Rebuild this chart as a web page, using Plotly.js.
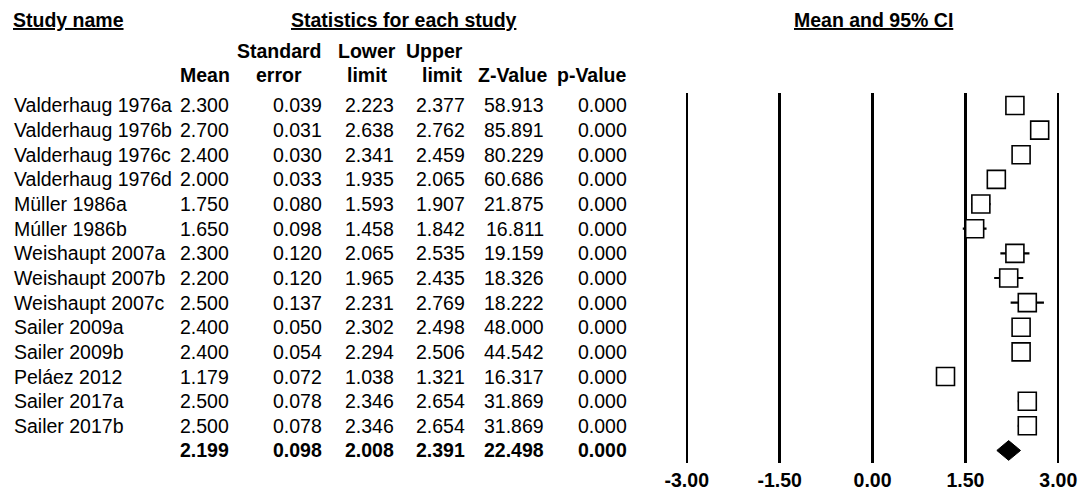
<!DOCTYPE html>
<html>
<head>
<meta charset="utf-8">
<script src="https://cdn.plot.ly/plotly-3.0.1.min.js"></script>
<style>html,body{margin:0;padding:0;background:#fff;}#chart{width:1082px;height:491px;}</style>
</head>
<body>
<div id="chart"></div>
<script>
// ---- data ----
const studies = ["Valderhaug 1976a","Valderhaug 1976b","Valderhaug 1976c","Valderhaug 1976d",
  "Müller 1986a","Múller 1986b","Weishaupt 2007a","Weishaupt 2007b","Weishaupt 2007c",
  "Sailer 2009a","Sailer 2009b","Peláez 2012","Sailer 2017a","Sailer 2017b"];
const means  = [2.300,2.700,2.400,2.000,1.750,1.650,2.300,2.200,2.500,2.400,2.400,1.179,2.500,2.500];
const stdErr = [0.039,0.031,0.030,0.033,0.080,0.098,0.120,0.120,0.137,0.050,0.054,0.072,0.078,0.078];
const lower  = [2.223,2.638,2.341,1.935,1.593,1.458,2.065,1.965,2.231,2.302,2.294,1.038,2.346,2.346];
const upper  = [2.377,2.762,2.459,2.065,1.907,1.842,2.535,2.435,2.769,2.498,2.506,1.321,2.654,2.654];
const zValues= [58.913,85.891,80.229,60.686,21.875,16.811,19.159,18.326,18.222,48.000,44.542,16.317,31.869,31.869];
const pValues= [0.000,0.000,0.000,0.000,0.000,0.000,0.000,0.000,0.000,0.000,0.000,0.000,0.000,0.000];
const summaryMean = 2.199, summarySE = 0.098, summaryLower = 2.008, summaryUpper = 2.391, summaryZ = 22.498, summaryP = 0.000;
const tickVals = [-3, -1.5, 0, 1.5, 3];
const tickLabels = ["-3.00","-1.50","0.00","1.50","3.00"];
const headerTop = ["","Standard","Lower","Upper","",""];
const headerBottom = ["Mean","error","limit","limit","Z-Value","p-Value"];

(function () {
  const W = 1082, H = 491;
  const FONT = "Liberation Sans, Arial, sans-serif";
  const FS = 19.5;
  const px = v => v / W;
  const py = v => 1 - v / H;
  const rows = studies.map((_, i) => i);
  const sumRow = studies.length;

  const colRight = [229.5, 323, 395, 466, 545, 628];
  const colHeadX = [205, 279, 367, 464, 513, 592];
  const colHeadAnchor = ['center', 'center', 'center', 'right', 'center', 'center'];

  const annotations = [];
  function ann(text, x, y, xanchor, yref, bold, font) {
    annotations.push({
      text: text, x: x, y: y, xref: 'paper', yref: yref,
      xanchor: xanchor, yanchor: 'middle', showarrow: false, borderpad: 0,
      font: font || {family: FONT, size: FS, color: '#000', weight: bold ? 'bold' : 'normal'}
    });
  }
  const uFont = {family: FONT, size: FS, color: '#000', weight: 'bold', lineposition: 'under'};
  ann("Study name", px(12), py(20), 'left', 'paper', true, uFont);
  ann("Statistics for each study", px(404), py(20), 'center', 'paper', true, uFont);
  ann("Mean and 95% CI", px(873), py(20), 'center', 'paper', true, uFont);
  headerTop.forEach((t, j) => { if (t) ann(t, px(colHeadX[j]), py(51.5), colHeadAnchor[j], 'paper', true); });
  headerBottom.forEach((t, j) => ann(t, px(colHeadX[j]), py(74.5), colHeadAnchor[j], 'paper', true));
  studies.forEach((s, i) => {
    ann(s, px(13), i, 'left', 'y', false);
    const vals = [means[i], stdErr[i], lower[i], upper[i], zValues[i], pValues[i]];
    vals.forEach((v, j) => ann(v.toFixed(3), px(colRight[j]), i, 'right', 'y', false));
  });
  [summaryMean, summarySE, summaryLower, summaryUpper, summaryZ, summaryP]
    .forEach((v, j) => ann(v.toFixed(3), px(colRight[j]), sumRow, 'right', 'y', true));

  const studyTrace = {
    type: 'scatter', mode: 'markers', x: means, y: rows,
    marker: {symbol: 'square', size: 18, color: '#fff', line: {color: '#000', width: 1.6}},
    error_x: {type: 'data', symmetric: false,
      array: upper.map((u, i) => u - means[i]),
      arrayminus: lower.map((l, i) => means[i] - l),
      width: 0, thickness: 2.2, color: '#000'},
    showlegend: false, cliponaxis: false
  };
  const dh = 0.4;
  const diamond = {
    type: 'scatter', mode: 'lines',
    x: [summaryLower, summaryMean, summaryUpper, summaryMean, summaryLower],
    y: [sumRow, sumRow - dh, sumRow, sumRow + dh, sumRow],
    fill: 'toself', fillcolor: '#000', line: {color: '#000', width: 1},
    showlegend: false
  };

  const pxPerUnit = (1058.25 - 686.75) / 6;
  const xr = [-3.03, 3.03];
  const xdom = [px(686.75 + (xr[0] + 3) * pxPerUnit), px(686.75 + (xr[1] + 3) * pxPerUnit)];
  const r0 = 105.5, dr = 24.64, pTop = 92.7, pBot = 462.7;
  const yrange = [(pBot - r0) / dr, (pTop - r0) / dr];

  const layout = {
    width: W, height: H,
    margin: {l: 0, r: 0, t: 0, b: 0, pad: 0},
    paper_bgcolor: '#fff', plot_bgcolor: '#fff',
    showlegend: false,
    xaxis: {domain: xdom, range: xr, tickvals: tickVals, ticktext: tickLabels,
      showgrid: true, gridcolor: '#000', gridwidth: 2.4, zeroline: false, showline: false,
      ticks: '', ticklabelstandoff: 4, automargin: false, fixedrange: true,
      tickfont: {family: FONT, size: FS, color: '#000', weight: 'bold'}},
    yaxis: {domain: [py(pBot), py(pTop)], range: yrange, showgrid: false, zeroline: false,
      showline: false, showticklabels: false, ticks: '', automargin: false, fixedrange: true},
    annotations: annotations
  };

  Plotly.newPlot('chart', [studyTrace, diamond], layout, {displayModeBar: false, staticPlot: true});
})();
</script>
</body>
</html>
